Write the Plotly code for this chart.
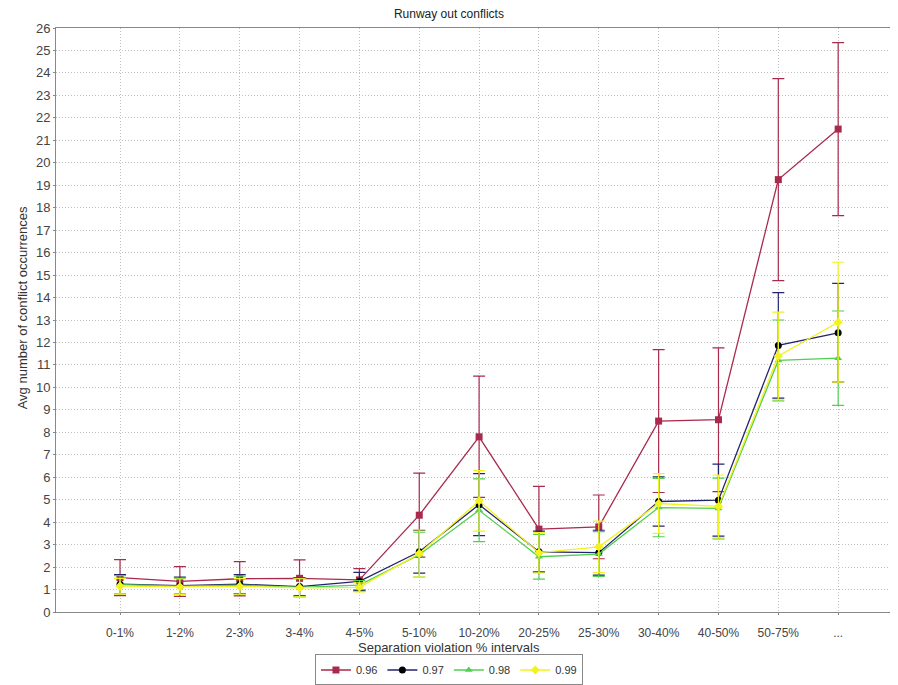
import plotly.graph_objects as go

categories = ["0-1%", "1-2%", "2-3%", "3-4%", "4-5%", "5-10%", "10-20%",
              "20-25%", "25-30%", "30-40%", "40-50%", "50-75%", "..."]

s096 = [1.53, 1.36, 1.48, 1.50, 1.43, 4.31, 7.80, 3.69, 3.79, 8.50, 8.56, 19.25, 21.50]
e096 = [0.80, 0.66, 0.76, 0.82, 0.50, 1.87, 2.70, 1.90, 1.42, 3.18, 3.20, 4.50, 3.85]

s097 = [1.24, 1.17, 1.24, 1.13, 1.36, 2.68, 4.78, 2.68, 2.64, 4.92, 4.98, 11.87, 12.43]
e097 = [0.42, 0.38, 0.42, 0.40, 0.40, 0.95, 1.38, 0.92, 1.00, 1.10, 1.60, 2.35, 2.20]

s098 = [1.22, 1.15, 1.20, 1.10, 1.20, 2.55, 4.53, 2.46, 2.58, 4.65, 4.61, 11.20, 11.30]
e098 = [0.40, 0.35, 0.40, 0.40, 0.20, 1.00, 1.40, 1.00, 1.00, 1.30, 1.35, 1.80, 2.10]

s099 = [1.15, 1.12, 1.14, 1.08, 1.10, 2.60, 4.95, 2.64, 2.90, 4.83, 4.70, 11.40, 12.90]
e099 = [0.35, 0.35, 0.35, 0.40, 0.20, 1.05, 1.35, 0.90, 1.15, 1.33, 1.40, 1.95, 2.67]

series = [
    ("0.96", s096, e096, "#a82a4c", "#a82a4c", "square", 7),
    ("0.97", s097, e097, "#24246e", "#000000", "circle", 7),
    ("0.98", s098, e098, "#4fd04f", "#4fd04f", "triangle-up", 7),
    ("0.99", s099, e099, "#f2f21e", "#f2f21e", "diamond", 7),
]

fig = go.Figure()
for name, ys, es, lc, mc, sym, ms in series:
    fig.add_trace(go.Scatter(
        x=categories, y=ys, name=name, mode="lines+markers",
        line=dict(color=lc, width=1.3),
        marker=dict(color=mc, symbol=sym, size=ms),
        error_y=dict(type="data", array=es, visible=True, color=lc,
                     thickness=1.2, width=6),
    ))

font = "Liberation Sans, Arial, sans-serif"
fig.update_layout(
    width=898, height=685,
    margin=dict(l=48, r=8, t=20, b=81, autoexpand=False),
    paper_bgcolor="white", plot_bgcolor="white",
    font=dict(family=font, size=12, color="#333333"),
    title=dict(text="Runway out conflicts", x=0.491, xanchor="center",
               y=0.997, yanchor="top", font=dict(size=12, color="#222222")),
    showlegend=True,
    legend=dict(orientation="h", x=0.4667, xanchor="center", y=-0.0993, yanchor="middle",
                bordercolor="#888888", borderwidth=1, font=dict(size=11),
                itemwidth=30, tracegroupgap=0),
    annotations=[
        dict(text="Separation violation % intervals", xref="paper", yref="paper",
             x=0.4667, y=-0.0616, xanchor="center", yanchor="middle",
             showarrow=False, font=dict(size=13, color="#333333")),
        dict(text="Avg number of conflict occurrences", xref="paper", yref="paper",
             x=0, y=0.52, xshift=-34, xanchor="center", yanchor="middle",
             textangle=-90, showarrow=False, font=dict(size=13, color="#333333")),
    ],
)
fig.update_xaxes(
    type="category", range=[-1.07, 13.0], automargin=False,
    showgrid=True, gridcolor="#c0c0c0", griddash="1px,2px", gridwidth=1,
    showline=True, linecolor="#888888", linewidth=1, mirror=True,
    ticks="outside", ticklen=2, tickcolor="#888888", ticklabelstandoff=8,
    tickfont=dict(size=12, color="#444444"), zeroline=False,
)
fig.update_yaxes(
    range=[0, 26], dtick=1, tick0=0, automargin=False,
    showgrid=True, gridcolor="#c0c0c0", griddash="1px,2px", gridwidth=1,
    showline=True, linecolor="#888888", linewidth=1,
    ticks="outside", ticklen=2, tickcolor="#888888",
    tickfont=dict(size=13, color="#444444"), zeroline=False,
)

fig.write_html("out.html")
